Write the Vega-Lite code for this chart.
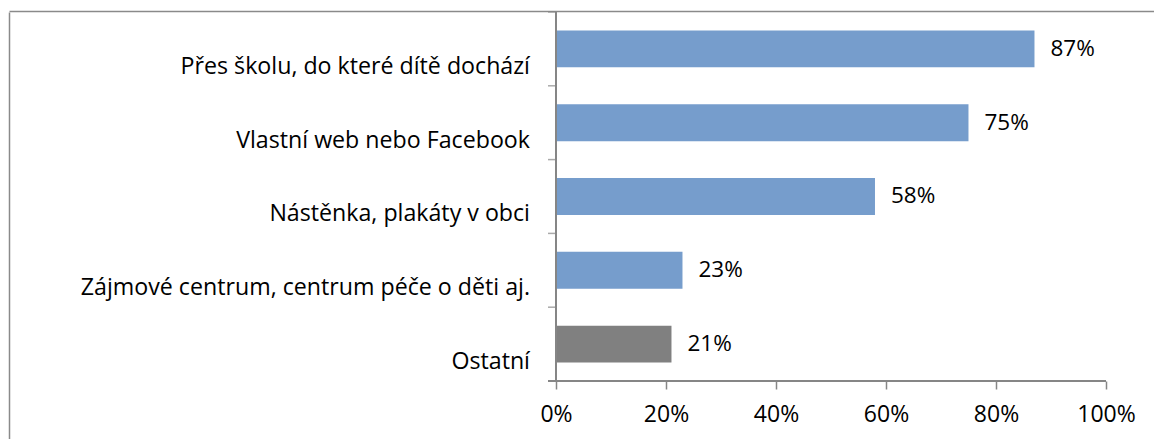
{
  "$schema": "https://vega.github.io/schema/vega-lite/v6.json",
  "width": 1145,
  "height": 427,
  "autosize": {"type": "none"},
  "padding": {"left": 9, "top": 12, "right": 0, "bottom": 0},
  "background": "white",
  "config": {
    "view": {"stroke": null},
    "font": "Open Sans",
    "text": {"font": "Open Sans", "fontSize": 22, "color": "#000000"},
    "axis": {"labelFont": "Open Sans"}
  },
  "data": {
    "values": [
      {"kategorie": "Přes školu, do které dítě dochází", "podil": 0.87, "skupina": "a"},
      {"kategorie": "Vlastní web nebo Facebook", "podil": 0.75, "skupina": "a"},
      {"kategorie": "Nástěnka, plakáty v obci", "podil": 0.58, "skupina": "a"},
      {"kategorie": "Zájmové centrum, centrum péče o děti aj.", "podil": 0.23, "skupina": "a"},
      {"kategorie": "Ostatní\u00a0", "podil": 0.21, "skupina": "b"}
    ]
  },
  "encoding": {
    "y": {
      "field": "kategorie",
      "type": "nominal",
      "sort": null,
      "scale": {"paddingInner": 0.5, "paddingOuter": 0.643, "align": 0.1944},
      "axis": {
        "title": null,
        "labels": false,
        "ticks": false,
        "domain": true,
        "domainColor": "#8a8a8a",
        "domainWidth": 1.5,
        "grid": true,
        "gridColor": "#8a8a8a",
        "gridWidth": 1.5,
        "bandPosition": -0.5,
        "gridOpacity": {
          "condition": {"test": "datum.value === 'Přes školu, do které dítě dochází'", "value": 1},
          "value": 0
        }
      }
    }
  },
  "layer": [
    {
      "mark": {"type": "bar"},
      "encoding": {
        "x": {
          "field": "podil",
          "type": "quantitative",
          "scale": {"domain": [-0.9945, 1.0873], "nice": false, "zero": false},
          "axis": {
            "title": null,
            "offset": -58,
            "values": [0, 0.2, 0.4, 0.6, 0.8, 1],
            "format": ".0%",
            "domain": false,
            "grid": false,
            "ticks": true,
            "tickColor": "#868686",
            "tickWidth": 1.5,
            "tickSize": 8,
            "labelFontSize": 23,
            "labelColor": "#000000",
            "labelPadding": 14
          }
        },
        "x2": {"datum": 0},
        "color": {
          "field": "skupina",
          "type": "nominal",
          "scale": {"domain": ["a", "b"], "range": ["#769dcc", "#808080"]},
          "legend": null
        }
      }
    },
    {
      "mark": {"type": "text", "align": "left", "baseline": "middle", "dx": 16, "fontSize": 22.5},
      "encoding": {
        "x": {"field": "podil", "type": "quantitative"},
        "text": {"field": "podil", "type": "quantitative", "format": ".0%"}
      }
    },
    {
      "mark": {"type": "text", "align": "right", "baseline": "middle", "dx": -26, "dy": 18, "fontSize": 23.2},
      "encoding": {
        "x": {"datum": 0},
        "text": {"field": "kategorie", "type": "nominal"}
      }
    },
    {
      "mark": {"type": "rule", "color": "#868686", "strokeWidth": 1.5},
      "encoding": {
        "x": {"datum": 0},
        "y": {"datum": "Přes školu, do které dítě dochází", "type": "nominal", "bandPosition": -0.5},
        "y2": {"datum": "Ostatní\u00a0", "bandPosition": 1.5}
      }
    },
    {
      "mark": {"type": "tick", "orient": "horizontal", "color": "#868686", "thickness": 1.5, "size": 8, "xOffset": -4},
      "encoding": {
        "x": {"datum": 0},
        "y": {"field": "kategorie", "type": "nominal", "bandPosition": -0.5}
      }
    },
    {
      "mark": {"type": "rule", "color": "#868686", "strokeWidth": 1.5},
      "encoding": {
        "x": {"datum": -0.0145},
        "x2": {"datum": 1},
        "y": {"datum": "Ostatní\u00a0", "type": "nominal", "bandPosition": 1.5}
      }
    }
  ]
}
